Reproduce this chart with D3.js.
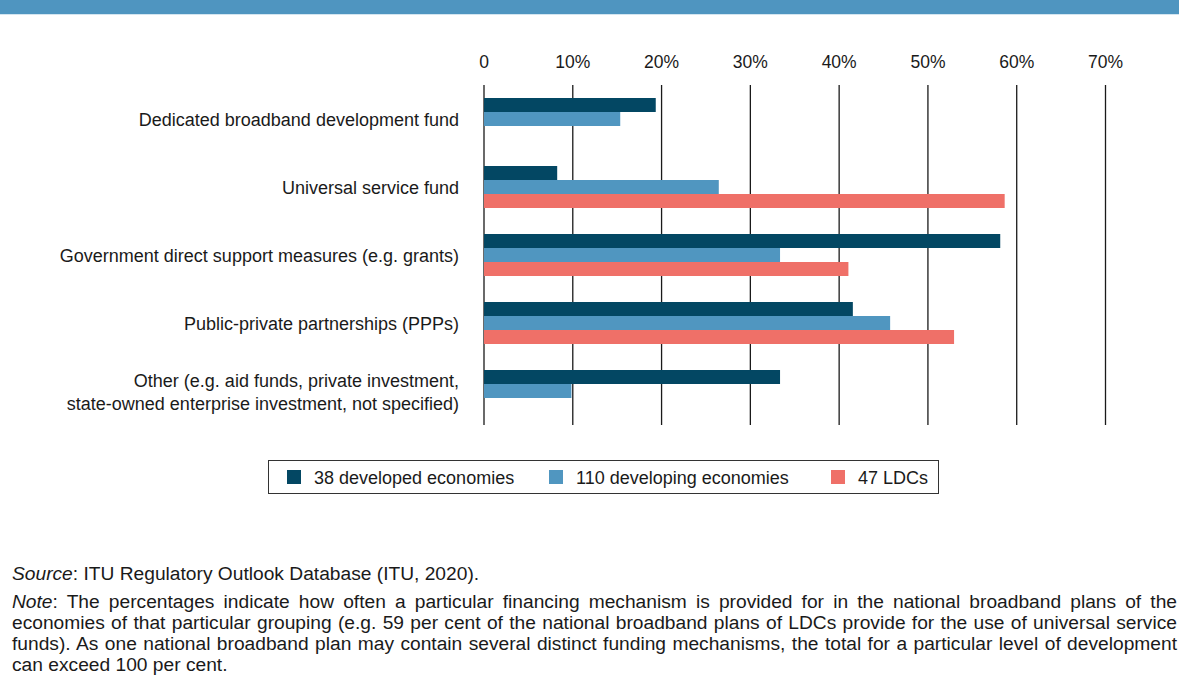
<!DOCTYPE html>
<html>
<head>
<meta charset="utf-8">
<script src="https://cdn.jsdelivr.net/npm/d3@7"></script>
<style>
  body { margin: 0; background: #fff; }
  svg { display: block; font-family: "Liberation Sans", Arial, sans-serif; }
</style>
</head>
<body>
<svg id="chart" width="1179" height="691"></svg>
<script>
// categories (top to bottom)
var categories = [
  ["Dedicated broadband development fund"],
  ["Universal service fund"],
  ["Government direct support measures (e.g. grants)"],
  ["Public-private partnerships (PPPs)"],
  ["Other (e.g. aid funds, private investment,", "state-owned enterprise investment, not specified)"]
];
var series = ["38 developed economies", "110 developing economies", "47 LDCs"];
var colors = ["#034763", "#5096c0", "#ef7068"];

// percentages per series, same order as categories (null = no bar)
var developed = [19.4, 8.3, 58.2, 41.6, 33.4];
var developing = [15.4, 26.5, 33.4, 45.8, 9.9];
var ldcs = [null, 58.7, 41.1, 53.0, null];
var values = [developed, developing, ldcs];

var xTicks = [0, 10, 20, 30, 40, 50, 60, 70];

var svg = d3.select("#chart");

// header band
svg.append("rect").attr("x", 0).attr("y", 0).attr("width", 1179).attr("height", 14).attr("fill", "#4f95c0");
svg.append("rect").attr("x", 0).attr("y", 14).attr("width", 1179).attr("height", 1).attr("fill", "#d3e5f0");

var x = d3.scaleLinear().domain([0, 70]).range([483.5, 1105]);

var catIdx = categories.map(function (d, i) { return i; });
var y = d3.scaleBand().domain(catIdx).range([98, 412]).paddingInner(26 / 68).paddingOuter(0);
var ySub = d3.scaleBand().domain([0, 1, 2]).range([0, y.bandwidth()]).padding(0);

//gridlines + tick labels
var axis = d3.axisTop(x)
  .tickValues(xTicks)
  .tickSize(-340)
  .tickPadding(17)
  .tickFormat(function (d) { return d === 0 ? "0" : d + "%"; });

var ax = svg.append("g").attr("transform", "translate(0,85)").call(axis);
ax.select(".domain").remove();
ax.selectAll(".tick line").attr("stroke", "#1a1a1a").attr("stroke-width", 1.3);
ax.selectAll(".tick text").attr("fill", "#1a1a1a").style("font-size", "17.5px").style("font-family", "Liberation Sans, Arial, sans-serif");

// bars
values.forEach(function (vals, s) {
  svg.append("g").selectAll("rect")
    .data(vals.map(function (v, i) { return { v: v, i: i }; }).filter(function (d) { return d.v !== null; }))
    .enter().append("rect")
    .attr("x", x(0) + 0.5)
    .attr("y", function (d) { return y(d.i) + ySub(s); })
    .attr("width", function (d) { return x(d.v) - x(0) - 0.5; })
    .attr("height", ySub.bandwidth())
    .attr("fill", colors[s]);
});

// category labels
var labels = svg.append("g").selectAll("text")
  .data(categories)
  .enter().append("text")
  .attr("text-anchor", "end")
  .attr("fill", "#1a1a1a")
  .style("font-size", "18px")
  .attr("transform", function (d, i) { return "translate(459," + (y(i) + y.bandwidth() / 2 + 1) + ")"; });

labels.each(function (d) {
  var t = d3.select(this);
  var n = d.length;
  d.forEach(function (line, k) {
    t.append("tspan")
      .attr("x", 0)
      .attr("y", (k - (n - 1) / 2) * 22.5)
      .attr("dy", "0.35em")
      .text(line);
  });
});

// legend
var lg = svg.append("g");
lg.append("rect").attr("x", 268.5).attr("y", 460.5).attr("width", 670).attr("height", 33)
  .attr("fill", "none").attr("stroke", "#333").attr("stroke-width", 1);
var legendX = [287, 549, 831];
series.forEach(function (name, s) {
  lg.append("rect").attr("x", legendX[s]).attr("y", 470).attr("width", 14).attr("height", 14).attr("fill", colors[s]);
  lg.append("text").attr("x", legendX[s] + 27).attr("y", 478).attr("dy", "0.35em")
    .attr("fill", "#1a1a1a").style("font-size", "18px").text(name);
});

// source + note
var foot = svg.append("g").attr("fill", "#1a1a1a").style("font-size", "19.2px");
var src = foot.append("text").attr("x", 12).attr("y", 580);
src.append("tspan").style("font-style", "italic").text("Source");
src.append("tspan").text(": ITU Regulatory Outlook Database (ITU, 2020).");

var noteLines = [
  "The percentages indicate how often a particular financing mechanism is provided for in the national broadband plans of the",
  "economies of that particular grouping (e.g. 59 per cent of the national broadband plans of LDCs provide for the use of universal service",
  "funds). As one national broadband plan may contain several distinct funding mechanisms, the total for a particular level of development",
  "can exceed 100 per cent."
];
noteLines.forEach(function (line, k) {
  var t = foot.append("text").attr("x", 12).attr("y", 608 + k * 21);
  if (k === 0) {
    t.append("tspan").style("font-style", "italic").text("Note");
    t.append("tspan").text(": " + line);
  } else {
    t.text(line);
  }
  // justify the first three lines by word spacing
  if (k < 3) {
    var full = (k === 0 ? "Note: " : "") + line;
    var spaces = full.split(" ").length - 1;
    var w = t.node().getComputedTextLength();
    t.style("word-spacing", ((1165 - w) / spaces) + "px");
  }
});
</script>
</body>
</html>
